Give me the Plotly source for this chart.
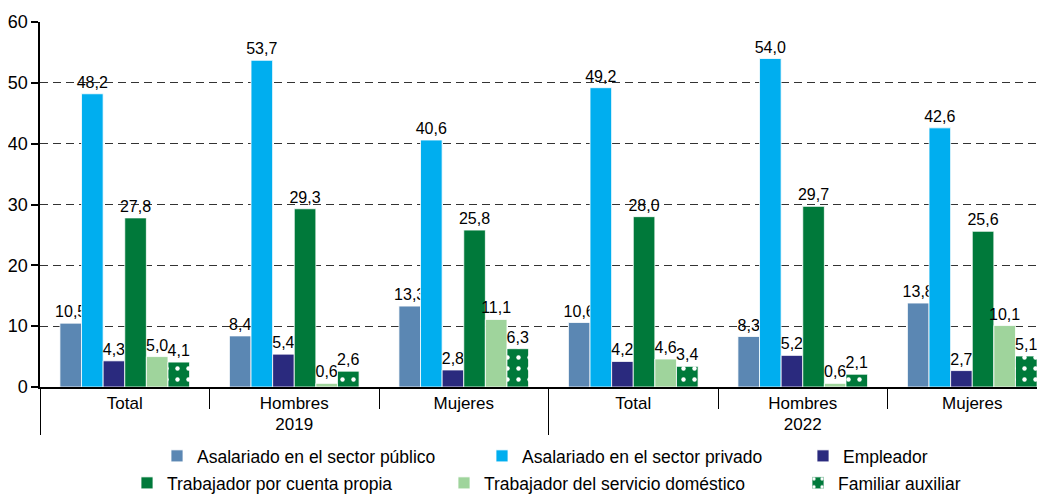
import plotly.graph_objects as go

years = ["2019", "2019", "2019", "2022", "2022", "2022"]
groups = ["Total", "Hombres", "Mujeres", "Total", "Hombres", "Mujeres"]

series_names = [
    "Asalariado en el sector público",
    "Asalariado en el sector privado",
    "Empleador",
    "Trabajador por cuenta propia",
    "Trabajador del servicio doméstico",
    "Familiar auxiliar",
]
publico = [10.5, 8.4, 13.3, 10.6, 8.3, 13.8]
privado = [48.2, 53.7, 40.6, 49.2, 54.0, 42.6]
empleador = [4.3, 5.4, 2.8, 4.2, 5.2, 2.7]
cuenta_propia = [27.8, 29.3, 25.8, 28.0, 29.7, 25.6]
domestico = [5.0, 0.6, 11.1, 4.6, 0.6, 10.1]
familiar = [4.1, 2.6, 6.3, 3.4, 2.1, 5.1]

values = [publico, privado, empleador, cuenta_propia, domestico, familiar]
colors = ["#5b87b3", "#00aeef", "#2a2a7e", "#00793a", "#9fd49c", "#00793a"]

FONT = "Liberation Sans, Arial, sans-serif"

# page offset of the figure inside the browser window (body margin)
OFF = 8
W, H = 1045 - OFF, 495 - OFF
ML, MR, MT, MB = 40 - OFF, 0, 22 - OFF, 108
pw = W - ML - MR
ph = H - MT - MB
# legend text start x and row centre y, in window pixels
leg_text_x = [197, 522, 843, 167, 484, 838]
leg_row_y = [456, 456, 456, 483, 483, 483]

fig = go.Figure()
for i, (name, vals, col) in enumerate(zip(series_names, values, colors)):
    marker = dict(color=col, line=dict(color="white", width=0.8))
    if i == 5:
        marker["pattern"] = dict(shape=".", fgcolor="white", bgcolor=col,
                                 size=11, solidity=0.13, fillmode="replace")
    lg = "legend" if i == 0 else f"legend{i + 1}"
    fig.add_trace(go.Bar(
        x=[years, groups], y=vals, name=name, marker=marker,
        texttemplate="%{y:.1f}", textposition="outside",
        textfont=dict(size=16, color="black", family=FONT),
        cliponaxis=False, constraintext="none",
        legend=lg,
    ))

legends = {}
for i in range(6):
    key = "legend" if i == 0 else f"legend{i + 1}"
    legends[key] = dict(
        orientation="h",
        x=(leg_text_x[i] - OFF - 40 - ML) / pw, xanchor="left",
        y=(ph - (leg_row_y[i] - OFF - MT)) / ph, yanchor="middle",
        font=dict(size=17.5, color="black", family=FONT),
        bgcolor="rgba(0,0,0,0)", borderwidth=0,
    )

fig.update_layout(
    width=W, height=H,
    margin=dict(l=ML, r=MR, t=MT, b=MB, pad=0, autoexpand=False),
    barmode="group", bargap=0.235, bargroupgap=0,
    separators=",.",
    plot_bgcolor="white", paper_bgcolor="white",
    font=dict(family=FONT, size=17, color="black"),
    showlegend=True,
    **legends,
)

fig.update_xaxes(
    type="multicategory",
    range=[-0.5, -0.5 + pw / 169.5],
    showline=True, linecolor="black", linewidth=1.5,
    ticks="outside", tickson="boundaries", ticklen=20, tickcolor="black", tickwidth=1,
    showdividers=True, dividercolor="black", dividerwidth=1,
    tickfont=dict(size=17, color="black", family=FONT),
    showgrid=False,
)
fig.update_yaxes(
    range=[0, 60], dtick=10,
    showline=True, linecolor="black", linewidth=1.5,
    ticks="outside", ticklen=7, tickcolor="black", tickwidth=1.5,
    tickfont=dict(size=18, color="black", family=FONT),
    showgrid=True, gridcolor="#333333", gridwidth=1, griddash="8px,5px",
    zeroline=False,
)

fig.write_html("out.html")
